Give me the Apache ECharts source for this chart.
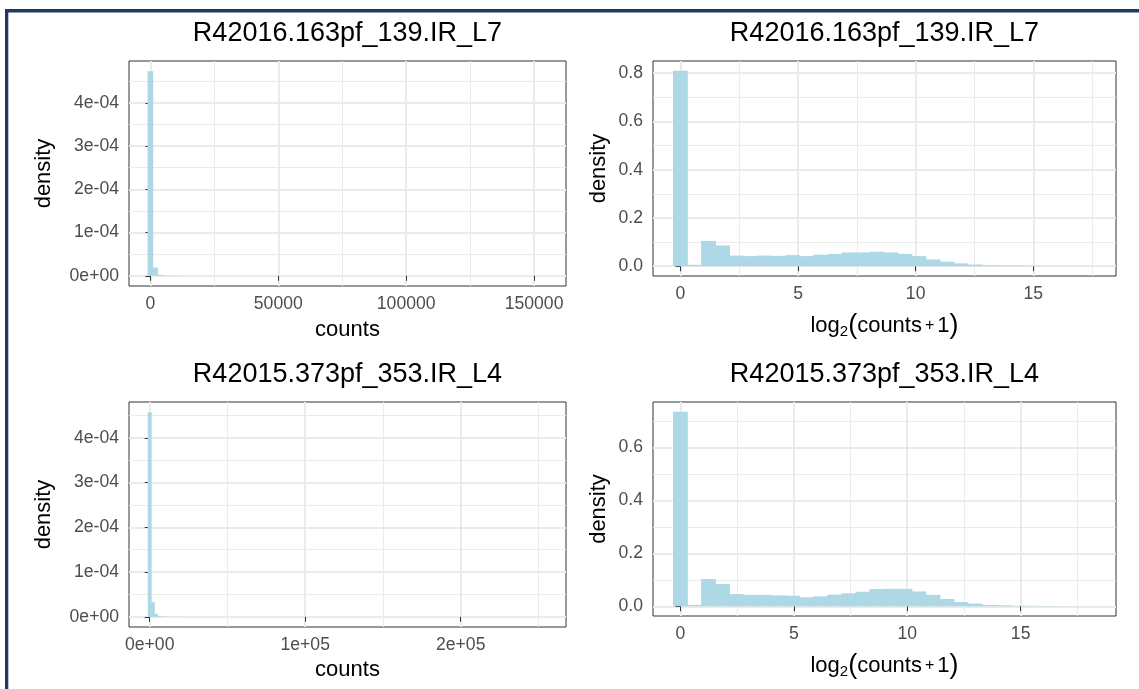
<!DOCTYPE html>
<html>
<head>
<meta charset="utf-8">
<script src="https://cdn.jsdelivr.net/npm/echarts@6.0.0/dist/echarts.min.js"></script>
<style>
  html, body { margin: 0; padding: 0; background: #ffffff; }
  #chart { width: 1139px; height: 689px; }
</style>
</head>
<body>
<div id="chart"></div>
<script>
// ---------------- DATA ----------------
const titleTop = 'R42016.163pf_139.IR_L7';
const titleBottom = 'R42015.373pf_353.IR_L4';

// Top-left: raw counts histogram (bin width ~1900 counts, bins centred at i*width)
const tlBinWidth = 1900;
const tlDensity = [4.73e-4, 0.19e-4, 0.023e-4, 0.009e-4, 0.005e-4, 0.003e-4, 0.002e-4, 0.0015e-4, 0.001e-4, 0.0008e-4, 0.0006e-4];

// Bottom-left: raw counts histogram
const blBinWidth = 2000;
const blDensity = [4.57e-4, 0.33e-4, 0.067e-4, 0.02e-4, 0.01e-4, 0.006e-4, 0.004e-4, 0.003e-4, 0.002e-4, 0.0015e-4, 0.001e-4];

// Top-right: log2(counts+1) histogram, 30 bins
const trBinWidth = 0.5965;
const trDensity = [0.81, 0.006, 0.105, 0.086, 0.044, 0.042, 0.044, 0.043, 0.046, 0.042,
                   0.048, 0.051, 0.057, 0.057, 0.060, 0.057, 0.051, 0.042, 0.028, 0.019,
                   0.012, 0.007, 0.004, 0.003, 0.003, 0.0015, 0.001, 0.001, 0.0007, 0.0005];

// Bottom-right: log2(counts+1) histogram, 30 bins
const brBinWidth = 0.6186;
const brDensity = [0.735, 0.005, 0.103, 0.084, 0.046, 0.043, 0.043, 0.041, 0.040, 0.034,
                   0.0375, 0.044, 0.049, 0.055, 0.065, 0.066, 0.066, 0.056, 0.043, 0.0275,
                   0.016, 0.010, 0.005, 0.004, 0.0025, 0.002, 0.0012, 0.001, 0.0006, 0.0005];

// Tick values and labels
const tlXTicks = [0, 50000, 100000, 150000];
const tlXLabels = ['0', '50000', '100000', '150000'];
const tlXMinor = [25000, 75000, 125000];
const blXTicks = [0, 100000, 200000];
const blXLabels = ['0e+00', '1e+05', '2e+05'];
const blXMinor = [50000, 150000, 250000];
const sciYTicks = [0, 1e-4, 2e-4, 3e-4, 4e-4];
const sciYLabels = ['0e+00', '1e-04', '2e-04', '3e-04', '4e-04'];
const sciYMinor = [0.5e-4, 1.5e-4, 2.5e-4, 3.5e-4, 4.5e-4];
const logXTicks = [0, 5, 10, 15];
const logXLabels = ['0', '5', '10', '15'];
const logXMinor = [2.5, 7.5, 12.5, 17.5];
const trYTicks = [0, 0.2, 0.4, 0.6, 0.8];
const trYLabels = ['0.0', '0.2', '0.4', '0.6', '0.8'];
const brYTicks = [0, 0.2, 0.4, 0.6];
const brYLabels = ['0.0', '0.2', '0.4', '0.6'];
const logYMinor = [0.1, 0.3, 0.5, 0.7];

// ---------------- STYLE / LAYOUT ----------------
const FONT = "'Liberation Sans', Arial, Helvetica, sans-serif";
const BAR = '#add8e6';
const GRID_COL = '#ebebeb';
const TICK_COL = '#333333';
const LABEL_COL = '#4d4d4d';
const TICK_FS = 17.6;
const NAME_FS = 22;

const panels = [
  { grid: {left: 129, top: 61, width: 437, height: 225},
    xRange: [-8372, 162480], yRange: [-0.2365e-4, 4.966e-4],
    xTicks: tlXTicks, xLabels: tlXLabels, xMinor: tlXMinor,
    yTicks: sciYTicks, yLabels: sciYLabels, yMinor: sciYMinor,
    xName: 'counts', xGap: 33, yGap: 74, binWidth: tlBinWidth, dens: tlDensity,
    title: titleTop, titleX: 347.5, titleY: 20, log: false },
  { grid: {left: 653, top: 61, width: 463, height: 215},
    xRange: [-1.166, 18.518], yRange: [-0.0405, 0.8505],
    xTicks: logXTicks, xLabels: logXLabels, xMinor: logXMinor,
    yTicks: trYTicks, yLabels: trYLabels, yMinor: logYMinor,
    xName: 'log2', xGap: 36, yGap: 43, binWidth: trBinWidth, dens: trDensity,
    title: titleTop, titleX: 884.5, titleY: 20, log: true },
  { grid: {left: 129, top: 402, width: 437, height: 225},
    xRange: [-13320, 267700], yRange: [-0.2285e-4, 4.799e-4],
    xTicks: blXTicks, xLabels: blXLabels, xMinor: blXMinor,
    yTicks: sciYTicks, yLabels: sciYLabels, yMinor: sciYMinor,
    xName: 'counts', xGap: 32, yGap: 74, binWidth: blBinWidth, dens: blDensity,
    title: titleBottom, titleX: 347.5, titleY: 361, log: false },
  { grid: {left: 653, top: 402, width: 463, height: 214},
    xRange: [-1.209, 19.204], yRange: [-0.03675, 0.7717],
    xTicks: logXTicks, xLabels: logXLabels, xMinor: logXMinor,
    yTicks: brYTicks, yLabels: brYLabels, yMinor: logYMinor,
    xName: 'log2', xGap: 36, yGap: 43, binWidth: brBinWidth, dens: brDensity,
    title: titleBottom, titleX: 884.5, titleY: 361, log: true }
];

function labelFor(ticks, labels) {
  return function (v) {
    let best = 0, bd = Infinity;
    ticks.forEach((t, i) => { const d = Math.abs(t - v); if (d < bd) { bd = d; best = i; } });
    return labels[best];
  };
}

const option = {
  backgroundColor: '#ffffff',
  animation: false,
  title: [], grid: [], xAxis: [], yAxis: [], series: [],
  graphic: [
    { type: 'rect', shape: {x: 5, y: 9, width: 1134, height: 3.5}, style: {fill: '#1f3864'}, z: 100 },
    { type: 'rect', shape: {x: 5, y: 9, width: 3.3, height: 680}, style: {fill: '#1f3864'}, z: 100 }
  ]
};

panels.forEach((p, k) => {
  option.title.push({
    text: p.title, left: p.titleX, top: p.titleY, textAlign: 'center', padding: 0,
    textStyle: {fontFamily: FONT, fontSize: 27, fontWeight: 'normal', color: '#000000'}
  });
  option.grid.push(Object.assign({
    show: true, borderColor: TICK_COL, borderWidth: 1, backgroundColor: '#ffffff'
  }, p.grid));

  const xName = p.log ? '{n|log}{s|2}{p|(}{n|counts}{m|+}{n|1}{p|)}' : p.xName;
  // major x axis
  option.xAxis.push({
    type: 'value', gridIndex: k, min: p.xRange[0], max: p.xRange[1], position: 'bottom',
    axisLine: {show: false},
    axisTick: {show: true, length: 5, customValues: p.xTicks, lineStyle: {color: TICK_COL, width: 1}},
    axisLabel: {customValues: p.xTicks, formatter: labelFor(p.xTicks, p.xLabels), margin: 9,
                color: LABEL_COL, fontSize: TICK_FS, fontFamily: FONT},
    splitLine: {show: true, lineStyle: {color: GRID_COL, width: 2}},
    name: xName, nameLocation: 'middle', nameGap: p.xGap,
    nameTextStyle: {fontFamily: FONT, fontSize: NAME_FS, color: '#000000',
      rich: {
        n: {fontFamily: FONT, fontSize: NAME_FS, color: '#000000'},
        m: {fontFamily: FONT, fontSize: 16, color: '#000000', padding: [0, 3, 0, 3]},
        s: {fontFamily: FONT, fontSize: 15, color: '#000000', verticalAlign: 'bottom'},
        p: {fontFamily: FONT, fontSize: 27, color: '#000000'}
      }}
  });
  // minor x axis (for minor grid lines only)
  option.xAxis.push({
    type: 'value', gridIndex: k, min: p.xRange[0], max: p.xRange[1], position: 'top',
    axisLine: {show: false},
    axisTick: {show: false, customValues: p.xMinor},
    axisLabel: {show: false, customValues: p.xMinor},
    splitLine: {show: true, lineStyle: {color: GRID_COL, width: 1}}
  });
  option.yAxis.push({
    type: 'value', gridIndex: k, min: p.yRange[0], max: p.yRange[1], position: 'left',
    axisLine: {show: false},
    axisTick: {show: true, length: 5, customValues: p.yTicks, lineStyle: {color: TICK_COL, width: 1}},
    axisLabel: {customValues: p.yTicks, formatter: labelFor(p.yTicks, p.yLabels), margin: 10,
                color: LABEL_COL, fontSize: TICK_FS, fontFamily: FONT},
    splitLine: {show: true, lineStyle: {color: GRID_COL, width: 2}},
    name: 'density', nameLocation: 'middle', nameGap: p.yGap,
    nameTextStyle: {fontFamily: FONT, fontSize: NAME_FS, color: '#000000'}
  });
  option.yAxis.push({
    type: 'value', gridIndex: k, min: p.yRange[0], max: p.yRange[1], position: 'right',
    axisLine: {show: false},
    axisTick: {show: false, customValues: p.yMinor},
    axisLabel: {show: false, customValues: p.yMinor},
    splitLine: {show: true, lineStyle: {color: GRID_COL, width: 1}}
  });

  const w = p.binWidth;
  option.series.push({
    type: 'custom',
    xAxisIndex: 2 * k, yAxisIndex: 2 * k,
    data: p.dens.map((d, i) => [i * w, d]),
    clip: true,
    renderItem: function (params, api) {
      const c = api.value(0), v = api.value(1);
      const a = api.coord([c - w / 2, 0]);
      const b = api.coord([c + w / 2, v]);
      return {
        type: 'rect',
        // small overlap hides anti-aliasing seams between adjacent bins
        shape: {x: a[0] - 0.4, y: b[1], width: b[0] - a[0] + 0.8, height: a[1] - b[1]},
        style: {fill: BAR}
      };
    }
  });
});

const chart = echarts.init(document.getElementById('chart'), null, {renderer: 'canvas'});
chart.setOption(option);
</script>
</body>
</html>
